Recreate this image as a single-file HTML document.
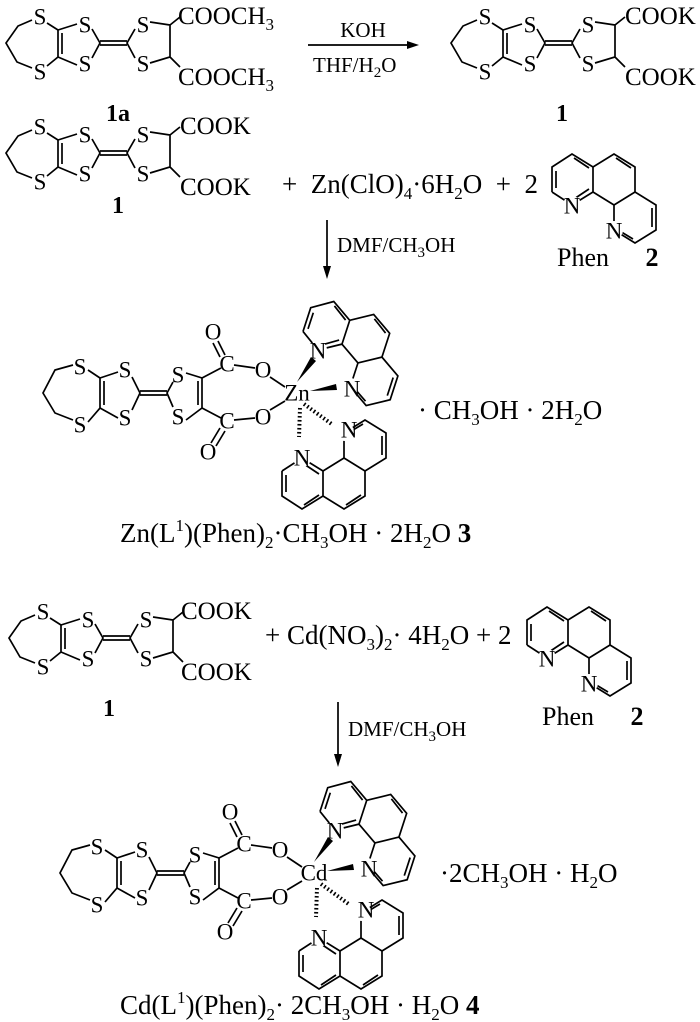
<!DOCTYPE html>
<html><head><meta charset="utf-8"><style>
html,body{margin:0;padding:0;background:#fff;}
svg{display:block;}
text{font-family:"Liberation Serif",serif;fill:#000;}
.a{font-size:23px;text-anchor:middle;dominant-baseline:central;}
.t{font-size:25px;}
.e{font-size:27px;}
.b{font-size:24px;font-weight:bold;text-anchor:middle;}
.s{font-size:17px;}
.l{fill:none;stroke:#000;stroke-width:1.7;}
</style></head><body>
<svg width="700" height="1022" viewBox="0 0 700 1022" xmlns="http://www.w3.org/2000/svg">
<defs>
<g id="ttf" class="l">
<path d="M32,20 L18,26 L6,43 L17,62 L32,68 M47,23 L58,30 L58,57 L47,66 M62,33 L62,54 M58,30 L77,24 M58,57 L77,65 M92,29 L100,43 L92,58 M100,41 L127,41 M100,45 L127,45 M135,29 L127,43 L135,58 M150,22 L170,25 L170,57 L150,63 M170,25 L180,17 M170,57 L180,67"/>
</g>
<g id="phen" class="l">
<path d="M552,192 L552,167 L572,154 L593,167 L614,154 L635,167 L635,192 L656,205 L656,230 L635,243 L614,230 M614,230 L614,205 L593,192 L593,167 M593,192 L572,205 L552,192 M614,205 L635,192 M556,188 L556,171 M574,158 L589,168 M616,158 L631,168 M652,208 L652,227 M633,239 L618,230 M589,189 L574,199"/>
</g>
<g id="cx" class="l">
<path d="M73,365 L55,370 L43,393 L55,413 L73,420 M88,370 L100,378 L100,408 L88,422 M104,381 L104,405 M100,378 L118,372 M100,408 L118,418 M132,377 L140,393 L132,410 M140,391 L167,391 M140,395 L167,395 M173,382 L167,393 L173,407 M186,373 L202,378 L202,408 L186,420 M198,381 L198,405 M202,378 L221,368 M202,408 L221,418 M220,357 L213,343 M225,355 L218,341 M234,365 L255,368 M234,420 L255,418 M270,377 L285,387 M270,410 L285,401 M220,428 L211,443 M225,431 L216,446"/>
<polygon points="297,382 311,357 316,361" fill="#000" stroke="none"/>
<polygon points="310,391 336,384 337,390" fill="#000" stroke="none"/>
<path d="M300,408 L299,437 M304,404 L333,425" stroke-dasharray="1.6,2.4" stroke-width="4"/>
</g>
</defs>

<!-- Row 1 -->
<use href="#ttf"/>
<text class="a" x="40" y="17">S</text><text class="a" x="40" y="72">S</text>
<text class="a" x="85" y="25">S</text><text class="a" x="85" y="64">S</text>
<text class="a" x="143" y="25">S</text><text class="a" x="143" y="64">S</text>
<text class="t" x="178" y="24">COOCH<tspan class="s" dy="6">3</tspan></text>
<text class="t" x="178" y="85">COOCH<tspan class="s" dy="6">3</tspan></text>
<text class="b" x="118" y="121">1a</text>

<path class="l" d="M308,45 L412,45"/><polygon points="419,45 407,41 407,49" fill="#000"/>
<text x="363" y="37" text-anchor="middle" style="font-size:21px">KOH</text>
<text x="313" y="72" style="font-size:21px">THF/H<tspan class="s" dy="5" style="font-size:15px">2</tspan><tspan dy="-5">O</tspan></text>

<g transform="translate(445,0)">
<use href="#ttf"/>
<text class="a" x="40" y="17">S</text><text class="a" x="40" y="72">S</text>
<text class="a" x="85" y="25">S</text><text class="a" x="85" y="64">S</text>
<text class="a" x="143" y="25">S</text><text class="a" x="143" y="64">S</text>
<text class="t" x="180" y="24">COOK</text>
<text class="t" x="180" y="85">COOK</text>
<text class="b" x="117" y="121">1</text>
</g>

<!-- Row 2 -->
<g transform="translate(0,110)">
<use href="#ttf"/>
<text class="a" x="40" y="17">S</text><text class="a" x="40" y="72">S</text>
<text class="a" x="85" y="25">S</text><text class="a" x="85" y="64">S</text>
<text class="a" x="143" y="25">S</text><text class="a" x="143" y="64">S</text>
<text class="t" x="180" y="24">COOK</text>
<text class="t" x="180" y="85">COOK</text>
<text class="b" x="118" y="103">1</text>
</g>
<text class="e" x="282" y="193" xml:space="preserve">+  Zn(ClO)<tspan class="s" dy="6">4</tspan><tspan dy="-6">·6H</tspan><tspan class="s" dy="6">2</tspan><tspan dy="-6">O  +  2</tspan></text>
<use href="#phen"/>
<circle cx="572" cy="205" r="9" fill="#fff"/><text class="a" x="572" y="206">N</text>
<circle cx="614" cy="230" r="9" fill="#fff"/><text class="a" x="614" y="231">N</text>
<text x="557" y="266" style="font-size:26px">Phen</text><text class="b" x="652" y="266" style="font-size:26px">2</text>

<path class="l" d="M327,220 L327,272"/><polygon points="327,279 323,266 331,266" fill="#000"/>
<text x="337" y="252" style="font-size:21px">DMF/CH<tspan dy="5" style="font-size:15px">3</tspan><tspan dy="-5">OH</tspan></text>

<!-- Complex 3 -->
<use href="#cx"/>
<text class="a" x="80" y="367">S</text><text class="a" x="80" y="425">S</text>
<text class="a" x="125" y="370">S</text><text class="a" x="125" y="418">S</text>
<text class="a" x="178" y="375">S</text><text class="a" x="178" y="417">S</text>
<text class="a" x="227" y="364">C</text><text class="a" x="227" y="421">C</text>
<text class="a" x="213" y="332">O</text><text class="a" x="208" y="452">O</text>
<text class="a" x="263" y="370">O</text><text class="a" x="263" y="417">O</text>
<text class="a" x="297" y="393">Zn</text>
<use href="#phen" transform="translate(318,350) rotate(18) translate(-572,-205)"/>
<circle cx="318" cy="350" r="9" fill="#fff"/><text class="a" x="318" y="351">N</text>
<circle cx="350" cy="387" r="9" fill="#fff"/><text class="a" x="352" y="389">N</text>
<use href="#phen" transform="translate(302,458) scale(1,-1) translate(-572,-205)"/>
<circle cx="302" cy="458" r="9" fill="#fff"/><text class="a" x="302" y="458">N</text>
<circle cx="345" cy="432" r="9" fill="#fff"/><text class="a" x="349" y="430">N</text>
<text class="e" x="418" y="419">· CH<tspan class="s" dy="6">3</tspan><tspan dy="-6">OH · 2H</tspan><tspan class="s" dy="6">2</tspan><tspan dy="-6">O</tspan></text>
<text class="e" x="120" y="542">Zn(L<tspan class="s" dy="-11">1</tspan><tspan dy="11">)(Phen)</tspan><tspan class="s" dy="6">2</tspan><tspan dy="-6">·CH</tspan><tspan class="s" dy="6">3</tspan><tspan dy="-6">OH · 2H</tspan><tspan class="s" dy="6">2</tspan><tspan dy="-6">O  </tspan><tspan font-weight="bold">3</tspan></text>

<!-- Row 4 -->
<g transform="translate(3,595)">
<use href="#ttf"/>
<text class="a" x="40" y="17">S</text><text class="a" x="40" y="72">S</text>
<text class="a" x="85" y="25">S</text><text class="a" x="85" y="64">S</text>
<text class="a" x="143" y="25">S</text><text class="a" x="143" y="64">S</text>
<text class="t" x="178" y="24">COOK</text>
<text class="t" x="178" y="85">COOK</text>
<text class="b" x="106" y="121">1</text>
</g>
<text class="e" x="265" y="644">+ Cd(NO<tspan class="s" dy="6">3</tspan><tspan dy="-6">)</tspan><tspan class="s" dy="6">2</tspan><tspan dy="-6">· 4H</tspan><tspan class="s" dy="6">2</tspan><tspan dy="-6">O  + 2</tspan></text>
<use href="#phen" transform="translate(-25,453)"/>
<circle cx="547" cy="658" r="9" fill="#fff"/><text class="a" x="547" y="659">N</text>
<circle cx="589" cy="683" r="9" fill="#fff"/><text class="a" x="589" y="684">N</text>
<text x="542" y="725" style="font-size:26px">Phen</text><text class="b" x="637" y="725" style="font-size:26px">2</text>

<path class="l" d="M338,702 L338,760"/><polygon points="338,767 334,754 342,754" fill="#000"/>
<text x="348" y="736" style="font-size:21px">DMF/CH<tspan dy="5" style="font-size:15px">3</tspan><tspan dy="-5">OH</tspan></text>

<!-- Complex 4 -->
<g transform="translate(17,480)">
<use href="#cx"/>
<text class="a" x="80" y="367">S</text><text class="a" x="80" y="425">S</text>
<text class="a" x="125" y="370">S</text><text class="a" x="125" y="418">S</text>
<text class="a" x="178" y="375">S</text><text class="a" x="178" y="417">S</text>
<text class="a" x="227" y="364">C</text><text class="a" x="227" y="421">C</text>
<text class="a" x="213" y="332">O</text><text class="a" x="208" y="452">O</text>
<text class="a" x="263" y="370">O</text><text class="a" x="263" y="417">O</text>
<text class="a" x="297" y="393">Cd</text>
<use href="#phen" transform="translate(318,350) rotate(18) translate(-572,-205)"/>
<circle cx="318" cy="350" r="9" fill="#fff"/><text class="a" x="318" y="351">N</text>
<circle cx="350" cy="387" r="9" fill="#fff"/><text class="a" x="352" y="389">N</text>
<use href="#phen" transform="translate(302,458) scale(1,-1) translate(-572,-205)"/>
<circle cx="302" cy="458" r="9" fill="#fff"/><text class="a" x="302" y="458">N</text>
<circle cx="345" cy="432" r="9" fill="#fff"/><text class="a" x="349" y="430">N</text>
</g>
<text class="e" x="440" y="882">·2CH<tspan class="s" dy="6">3</tspan><tspan dy="-6">OH · H</tspan><tspan class="s" dy="6">2</tspan><tspan dy="-6">O</tspan></text>
<text class="e" x="120" y="1014">Cd(L<tspan class="s" dy="-11">1</tspan><tspan dy="11">)(Phen)</tspan><tspan class="s" dy="6">2</tspan><tspan dy="-6">· 2CH</tspan><tspan class="s" dy="6">3</tspan><tspan dy="-6">OH · H</tspan><tspan class="s" dy="6">2</tspan><tspan dy="-6">O   </tspan><tspan font-weight="bold">4</tspan></text>
</svg>
</body></html>
